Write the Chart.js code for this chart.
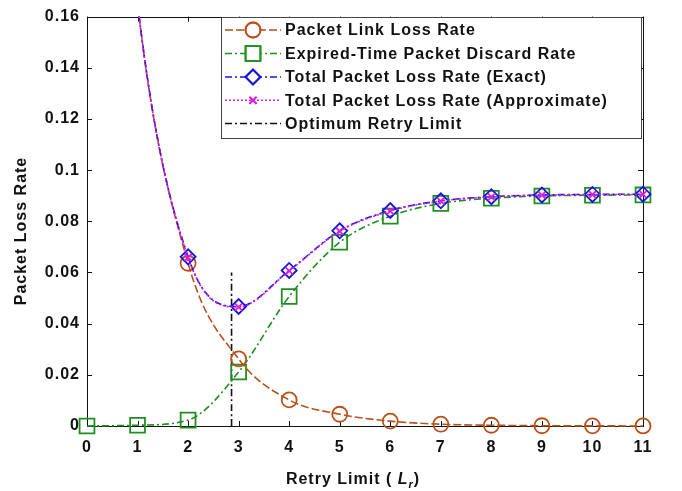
<!DOCTYPE html>
<html><head><meta charset="utf-8">
<script src="https://cdn.jsdelivr.net/npm/chart.js@4/dist/chart.umd.min.js"></script>
<style>html,body{margin:0;padding:0;background:#fff}</style>
</head><body>
<canvas id="c" width="682" height="491"></canvas>
<script>
// ---- data ----
const retryLimits = [0, 1, 2, 3, 4, 5, 6, 7, 8, 9, 10, 11];
const linkLossRate = [0.40, 0.165, 0.0636, 0.0262, 0.0102, 0.0046, 0.0019, 0.0007, 0.0003, 0.0001, 0.00005, 0.00002];
const discardRate = [0.0, 0.0003, 0.0023, 0.0211, 0.0506, 0.0718, 0.0820, 0.0870, 0.0890, 0.0899, 0.0902, 0.0903];
const totalExact = [0.40, 0.1653, 0.0661, 0.0467, 0.0608, 0.0763, 0.0842, 0.0880, 0.0896, 0.0903, 0.0905, 0.0906];
const totalApprox = [0.40, 0.1650, 0.0659, 0.0465, 0.0606, 0.0761, 0.0840, 0.0879, 0.0895, 0.0902, 0.0904, 0.0905];
const optimumRetryLimit = 2.86;
const optimumLineTop = 0.060;
const yTickValues = [0, 0.02, 0.04, 0.06, 0.08, 0.1, 0.12, 0.14, 0.16];
const xTickValues = [0, 1, 2, 3, 4, 5, 6, 7, 8, 9, 10, 11];
const seriesNames = ['Packet Link Loss Rate', 'Expired-Time Packet Discard Rate', 'Total Packet Loss Rate (Exact)', 'Total Packet Loss Rate (Approximate)', 'Optimum Retry Limit'];
const yAxisTitle = 'Packet Loss Rate';
const xAxisTitleParts = ['Retry Limit ( ', 'L', 'r', ')'];

// ---- styles ----
const FONT = '"Liberation Sans", Arial, sans-serif';
const cBrown = '#b9501c', cGreen = '#1f8f1f', cBlue = '#1414e0', cMag = '#dc1edc', cBlack = '#111';
const toXY = (arr) => arr.map((v, i) => ({x: retryLimits[i], y: v}));

const styles = [
  {color: cBrown, dash: [8, 3], pt: 'circle', r: 7.5},
  {color: cGreen, dash: [7, 3, 2, 3], pt: 'rect', r: 10.5},
  {color: cBlue, dash: [7, 3, 2, 3], pt: 'rectRot', r: 7.5},
  {color: cMag, dash: [2, 2], pt: 'crossRot', r: 5},
  {color: cBlack, dash: [7, 3, 2, 3], pt: false, r: 0}
];

function mkSet(idx, data, order) {
  const s = styles[idx];
  return {
    label: seriesNames[idx], data, order,
    borderColor: s.color, borderWidth: 1.6, borderDash: s.dash,
    pointStyle: s.pt, pointRadius: s.r, pointBorderColor: s.color, pointBorderWidth: 1.8,
    pointBackgroundColor: 'rgba(0,0,0,0)', pointHoverRadius: s.r,
    cubicInterpolationMode: 'monotone', fill: false,
    clip: {left: 12, right: 12, top: 0, bottom: 12}
  };
}

const spacingPlugin = {
  id: 'spacing',
  beforeUpdate(chart) { chart.ctx.letterSpacing = '1px'; },
  beforeDraw(chart) { chart.ctx.letterSpacing = '1px'; }
};

const framePlugin = {
  id: 'frame',
  beforeDatasetsDraw(chart) {
    const {ctx, chartArea: a, scales} = chart;
    ctx.save();
    ctx.setLineDash([]);
    ctx.strokeStyle = '#111';
    ctx.lineWidth = 1;
    ctx.strokeRect(Math.round(a.left) + 0.5, Math.round(a.top) + 0.5, Math.round(a.right - a.left), Math.round(a.bottom - a.top));
    const tl = 5;
    ctx.beginPath();
    xTickValues.forEach(v => {
      const px = Math.round(scales.x.getPixelForValue(v)) + 0.5;
      ctx.moveTo(px, a.bottom); ctx.lineTo(px, a.bottom - tl);
      ctx.moveTo(px, a.top); ctx.lineTo(px, a.top + tl);
    });
    yTickValues.forEach(v => {
      const py = Math.round(scales.y.getPixelForValue(v)) + 0.5;
      ctx.moveTo(a.left, py); ctx.lineTo(a.left + tl, py);
      ctx.moveTo(a.right, py); ctx.lineTo(a.right - tl, py);
    });
    ctx.stroke();
    ctx.restore();
  },
  afterDraw(chart) {
    const {ctx} = chart;
    ctx.save();
    ctx.letterSpacing = '1px';
    // y title
    ctx.fillStyle = '#111';
    ctx.font = 'bold 16px ' + FONT;
    ctx.translate(22, 231);
    ctx.rotate(-Math.PI / 2);
    ctx.textAlign = 'center';
    ctx.textBaseline = 'middle';
    ctx.fillText(yAxisTitle, 0, 0);
    ctx.restore();

    // x title with italic L and subscript r
    ctx.save();
    ctx.letterSpacing = '1px';
    ctx.fillStyle = '#111';
    ctx.textBaseline = 'alphabetic';
    const fN = 'bold 16px ' + FONT, fI = 'italic bold 16px ' + FONT, fS = 'italic bold 11px ' + FONT;
    const fonts = [fN, fI, fS, fN];
    const widths = xAxisTitleParts.map((t, i) => { ctx.font = fonts[i]; return ctx.measureText(t).width; });
    const total = widths.reduce((p, c) => p + c, 0);
    let x = 353 - total / 2;
    const base = 484;
    xAxisTitleParts.forEach((t, i) => {
      ctx.font = fonts[i];
      ctx.fillText(t, x, i === 2 ? base + 4 : base);
      x += widths[i];
    });
    ctx.restore();

    // legend
    ctx.save();
    const L = 221, T = 17, R = 641, B = 138;
    ctx.fillStyle = '#fff';
    ctx.fillRect(L, T, R - L, B - T);
    ctx.strokeStyle = '#444';
    ctx.lineWidth = 1;
    ctx.setLineDash([]);
    ctx.strokeRect(L + 0.5, T + 0.5, R - L, B - T);
    const rows = [30, 53.5, 77, 100.3, 123.5];
    chart.data.datasets.forEach((ds, i) => {
      const s = styles[i];
      const y = rows[i];
      ctx.save();
      ctx.strokeStyle = s.color;
      ctx.lineWidth = 1.6;
      ctx.setLineDash(s.dash);
      ctx.beginPath();
      ctx.moveTo(225, y); ctx.lineTo(281, y);
      ctx.stroke();
      ctx.setLineDash([]);
      if (s.pt) {
        ctx.lineWidth = 1.8;
        Chart.helpers.drawPoint(ctx, {pointStyle: s.pt, radius: s.r, borderWidth: 1.8, rotation: 0}, 253, y);
        ctx.stroke();
      }
      ctx.restore();
      ctx.save();
      ctx.letterSpacing = '1px';
      ctx.fillStyle = '#111';
      ctx.font = 'bold 16px ' + FONT;
      ctx.textBaseline = 'middle';
      ctx.textAlign = 'left';
      ctx.fillText(ds.label, 285, y + 1);
      ctx.restore();
    });
    ctx.restore();
  }
};

new Chart(document.getElementById('c'), {
  type: 'line',
  data: {
    datasets: [
      mkSet(0, toXY(linkLossRate), 2),
      mkSet(1, toXY(discardRate), 3),
      mkSet(2, toXY(totalExact), 1),
      mkSet(3, toXY(totalApprox), 0),
      mkSet(4, [{x: optimumRetryLimit, y: 0}, {x: optimumRetryLimit, y: optimumLineTop}], 4)
    ]
  },
  options: {
    responsive: false, animation: false, devicePixelRatio: 1,
    layout: {padding: {left: 0, top: 8, right: 39, bottom: 0}},
    plugins: {legend: {display: false}, tooltip: {enabled: false}},
    scales: {
      x: {
        type: 'linear', min: 0, max: 11,
        afterBuildTicks(s) { s.ticks = xTickValues.map(v => ({value: v})); },
        afterFit(s) { s.height = 65; },
        ticks: {font: {family: FONT, size: 16, weight: 'bold'}, color: '#111', padding: 12, autoSkip: false, maxRotation: 0},
        grid: {display: false, drawTicks: false}, border: {display: false}
      },
      y: {
        min: 0, max: 0.16,
        afterBuildTicks(s) { s.ticks = yTickValues.map(v => ({value: v})); },
        afterFit(s) { s.width = 87; },
        ticks: {font: {family: FONT, size: 16, weight: 'bold'}, color: '#111', padding: 7,
          callback: v => String(parseFloat(Number(v).toFixed(2)))},
        grid: {display: false, drawTicks: false}, border: {display: false}
      }
    }
  },
  plugins: [spacingPlugin, framePlugin]
});
</script>
</body></html>
